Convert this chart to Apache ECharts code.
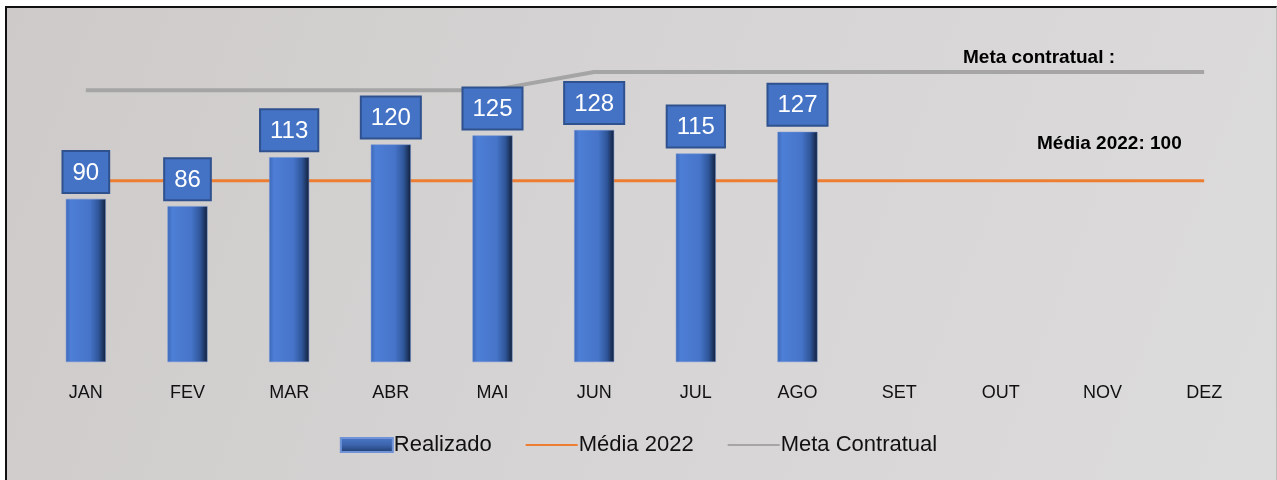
<!DOCTYPE html>
<html>
<head>
<meta charset="utf-8">
<script src="https://cdn.jsdelivr.net/npm/echarts@6/dist/echarts.min.js"></script>
<style>
html,body{margin:0;padding:0;background:#fff;}
#wrap{position:absolute;left:0;top:0;width:1277px;height:480px;}
#frame{position:absolute;left:5px;top:6px;width:1269px;height:474px;border-left:2px solid #111;border-top:2px solid #111;border-right:1px solid #bbb;background:linear-gradient(110deg,#cecaca 0%,#d6d4d4 50%,#dddcdc 100%);}
#chart{position:absolute;left:0;top:0;width:1277px;height:480px;}
</style>
</head>
<body>
<div id="wrap"><div id="frame"></div><div id="chart"></div></div>
<script>
var categories = ['JAN','FEV','MAR','ABR','MAI','JUN','JUL','AGO','SET','OUT','NOV','DEZ'];
var realizado = [90, 86, 113, 120, 125, 128, 115, 127, null, null, null, null];
var media2022 = [100,100,100,100,100,100,100,100,100,100,100,100];
var metaContratual = [150,150,150,150,150,160,160,160,160,160,160,160];

var FONT = '"Liberation Sans", Arial, sans-serif';
var chart = echarts.init(document.getElementById('chart'), null, {renderer:'canvas'});
var barGrad = new echarts.graphic.LinearGradient(0,0,1,0,[
  {offset:0, color:'#3d68b8'},
  {offset:0.12, color:'#4d7fd6'},
  {offset:0.6, color:'#4674c9'},
  {offset:0.82, color:'#2f5699'},
  {offset:1, color:'#121f3a'}
]);
var legendGrad = new echarts.graphic.LinearGradient(0,0,0,1,[
  {offset:0, color:'#4a78c8'},
  {offset:0.5, color:'#3c64ad'},
  {offset:1, color:'#1f3a6c'}
]);
chart.setOption({
  backgroundColor:'transparent',
  animation:false,
  grid:{left:35, right:22, top:35.75, bottom:118},
  xAxis:{type:'category', data:categories,
    axisLine:{show:false}, axisTick:{show:false},
    axisLabel:{color:'#111', fontSize:18, fontFamily:FONT, margin:22}},
  yAxis:{type:'value', min:0, max:180, show:false, splitLine:{show:false}},
  legend:{bottom:19, left:'center', itemGap:33, itemWidth:52, itemHeight:14,
    textStyle:{fontSize:22, fontFamily:FONT, color:'#111', padding:[0,0,0,-4]},
    data:[
      {name:'Realizado', icon:'rect', itemStyle:{color:legendGrad}},
      {name:'Média 2022', itemStyle:{opacity:0}},
      {name:'Meta Contratual', itemStyle:{opacity:0}}
    ]},
  series:[
    {name:'Média 2022', type:'line', data:media2022, symbol:'none', z:1,
      lineStyle:{color:'#ED7D31', width:3}, itemStyle:{color:'#ED7D31'}},
    {name:'Meta Contratual', type:'line', data:metaContratual, symbol:'none', z:1,
      lineStyle:{color:'#A5A5A5', width:4}, itemStyle:{color:'#A5A5A5'}},
    {name:'Realizado', type:'bar', data:realizado, barWidth:40, z:3,
      itemStyle:{color:barGrad, borderColor:'#6f93d6', borderWidth:0.5},
      label:{show:true, position:'top', distance:7, color:'#fff', fontSize:24, fontFamily:FONT,
        backgroundColor:'#4472C4', borderColor:'#2F528F', borderWidth:2, padding:[9,9,7,9]}}
  ],
  graphic:[
    {type:'text', left:963, top:48, style:{text:'Meta contratual :', font:'bold 19px '+FONT, fill:'#000'}},
    {type:'text', left:1037, top:134, style:{text:'Média 2022: 100', font:'bold 19px '+FONT, fill:'#000'}}
  ]
});
</script>
</body>
</html>
